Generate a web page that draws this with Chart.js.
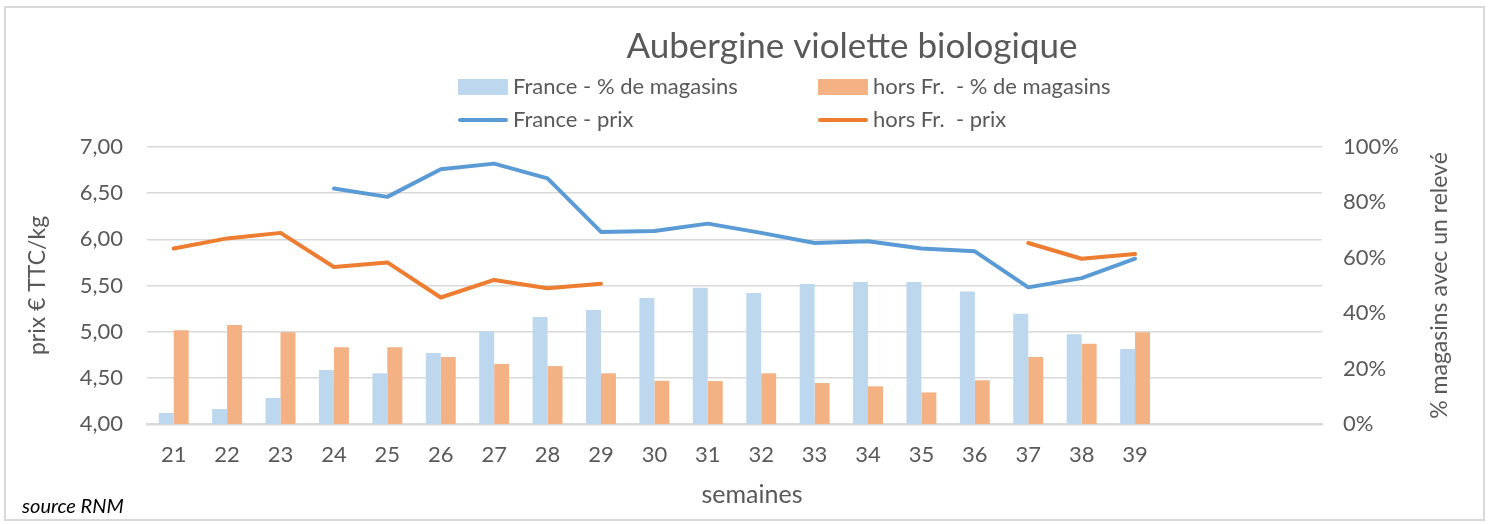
<!DOCTYPE html>
<html>
<head>
<meta charset="utf-8">
<script src="https://cdn.jsdelivr.net/npm/chart.js@4.4.1/dist/chart.umd.min.js"></script>
<style>
    html, body { margin: 0; padding: 0; background: #fff; }
    #wrap { position: relative; width: 1492px; height: 524px; }
    #frame { position: absolute; left: 4px; top: 6px; width: 1477px; height: 511px; border: 2px solid #d9d9d9; pointer-events: none; }
</style>
</head>
<body>
<div id="wrap">
    <canvas id="aubergineChart" width="1492" height="524"></canvas>
    <div id="frame"></div>
</div>
<script>
const weeks = ['21', '22', '23', '24', '25', '26', '27', '28', '29', '30', '31', '32', '33', '34', '35', '36', '37', '38', '39', '', '', ''];

// % de magasins avec un relevé
const francePct = [4.0, 5.4, 9.4, 19.5, 18.3, 25.6, 33.5, 38.6, 41.2, 45.5, 49.2, 47.3, 50.5, 51.3, 51.3, 47.8, 39.8, 32.4, 27.1, null, null, null];
const horsFrPct = [33.8, 35.7, 33.1, 27.7, 27.7, 24.2, 21.7, 20.9, 18.3, 15.6, 15.5, 18.3, 14.8, 13.6, 11.4, 15.8, 24.2, 29.0, 33.1, null, null, null];

// prix € TTC/kg
const francePrix = [null, null, null, 6.55, 6.46, 6.76, 6.82, 6.66, 6.08, 6.09, 6.17, 6.07, 5.96, 5.98, 5.90, 5.87, 5.48, 5.58, 5.79, null, null, null];
const horsFrPrix = [5.90, 6.01, 6.07, 5.70, 5.75, 5.37, 5.56, 5.47, 5.52, null, null, null, null, null, null, null, 5.96, 5.79, 5.84, null, null, null];

const priceTicks = { min: 4, max: 7, step: 0.5 };
const pctTicks = { min: 0, max: 100, step: 20 };

const textGrey = '#595959';
const gridGrey = '#d9d9d9';
const font = 'Lato';

const textPlugin = {
    id: 'excelText',
    afterDraw(chart) {
        const ctx = chart.ctx;
        const area = chart.chartArea;
        const midY = (area.top + area.bottom) / 2;
        ctx.save();
        ctx.fillStyle = textGrey;
        ctx.textBaseline = 'middle';

        ctx.font = `35px ${font}`;
        ctx.textAlign = 'center';
        ctx.fillText('Aubergine violette biologique', 852, 47);

        // legend, two columns
        const slots = [[458, 87], [818, 87], [458, 120], [818, 120]];
        ctx.font = `22px ${font}`;
        ctx.textAlign = 'left';
        chart.data.datasets.forEach((ds, i) => {
            const [x, y] = slots[i];
            if (ds.type === 'bar') {
                ctx.fillStyle = ds.backgroundColor;
                ctx.fillRect(x, y - 8, 50, 16);
            } else {
                ctx.strokeStyle = ds.borderColor;
                ctx.lineWidth = 4;
                ctx.lineCap = 'round';
                ctx.beginPath();
                ctx.moveTo(x + 2, y);
                ctx.lineTo(x + 48, y);
                ctx.stroke();
            }
            ctx.fillStyle = textGrey;
            ctx.fillText(ds.label, x + 55, y);
        });

        ctx.font = `25px ${font}`;
        ctx.textAlign = 'center';
        ctx.fillText('semaines', 752, 495);

        ctx.font = `23px ${font}`;
        ctx.save();
        ctx.translate(38, midY);
        ctx.rotate(-Math.PI / 2);
        ctx.fillText('prix € TTC/kg', 0, 0);
        ctx.restore();

        ctx.save();
        ctx.translate(1440, midY);
        ctx.rotate(-Math.PI / 2);
        ctx.fillText('% magasins avec un relevé', 0, 0);
        ctx.restore();

        ctx.fillStyle = '#000';
        ctx.font = `italic 20px ${font}`;
        ctx.textAlign = 'left';
        ctx.fillText('source RNM', 22, 507);
        ctx.restore();
    },
};

new Chart(document.getElementById('aubergineChart'), {
    data: {
        labels: weeks,
        datasets: [
            {
                type: 'bar',
                label: 'France - % de magasins',
                data: francePct,
                yAxisID: 'pct',
                backgroundColor: '#bdd7ee',
                borderWidth: 0,
                categoryPercentage: 0.56,
                barPercentage: 1,
                order: 2,
            },
            {
                type: 'bar',
                label: 'hors Fr.  - % de magasins',
                data: horsFrPct,
                yAxisID: 'pct',
                backgroundColor: '#f4b183',
                borderWidth: 0,
                categoryPercentage: 0.56,
                barPercentage: 1,
                order: 2,
            },
            {
                type: 'line',
                label: 'France - prix',
                data: francePrix,
                yAxisID: 'prix',
                borderColor: '#5b9bd5',
                borderWidth: 4,
                borderCapStyle: 'round',
                borderJoinStyle: 'round',
                pointRadius: 0,
                tension: 0,
                order: 1,
            },
            {
                type: 'line',
                label: 'hors Fr.  - prix',
                data: horsFrPrix,
                yAxisID: 'prix',
                borderColor: '#ed7d31',
                borderWidth: 4,
                borderCapStyle: 'round',
                borderJoinStyle: 'round',
                pointRadius: 0,
                tension: 0,
                order: 1,
            },
        ],
    },
    options: {
        responsive: false,
        animation: false,
        devicePixelRatio: 1,
        layout: { padding: { top: 147, left: 0, right: 0, bottom: 0 } },
        plugins: {
            legend: { display: false },
            title: { display: false },
            tooltip: { enabled: false },
        },
        scales: {
            x: {
                grid: { display: false, drawTicks: false },
                border: { color: gridGrey, width: 2.5 },
                ticks: {
                    color: textGrey,
                    padding: 18,
                    maxRotation: 0,
                    autoSkip: false,
                    font: { family: font, size: 22 },
                },
                afterFit: scale => { scale.height = 100; },
            },
            prix: {
                position: 'left',
                min: priceTicks.min,
                max: priceTicks.max,
                grid: { color: gridGrey, lineWidth: 1.5, drawTicks: false },
                border: { display: false },
                ticks: {
                    stepSize: priceTicks.step,
                    color: textGrey,
                    padding: 24,
                    font: { family: font, size: 22 },
                    callback: value => Number(value).toFixed(2).replace('.', ','),
                },
                afterFit: scale => { scale.width = 147; },
            },
            pct: {
                position: 'right',
                min: pctTicks.min,
                max: pctTicks.max,
                grid: { display: false, drawTicks: false },
                border: { display: false },
                ticks: {
                    stepSize: pctTicks.step,
                    color: textGrey,
                    padding: 21,
                    font: { family: font, size: 22 },
                    callback: value => `${value}%`,
                },
                afterFit: scale => { scale.width = 170; },
            },
        },
    },
    plugins: [textPlugin],
});
</script>
</body>
</html>
